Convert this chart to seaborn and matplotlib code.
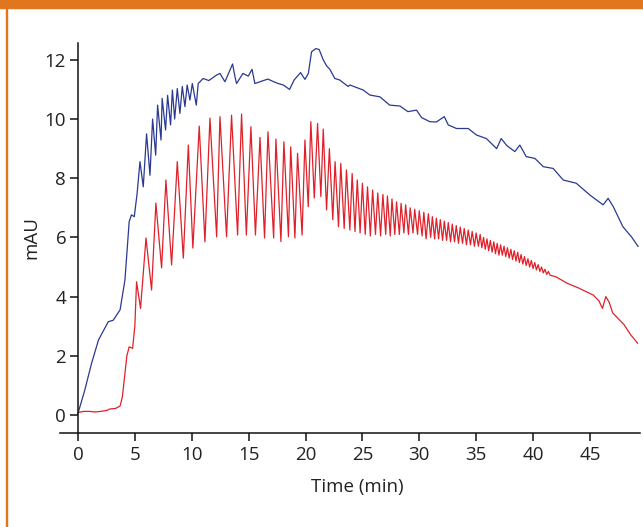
import pandas as pd
import seaborn as sns
import matplotlib.pyplot as plt
from matplotlib.patches import Rectangle

# red trace (pulsed): time (min) and mAU
red_t = [0, 0.5, 1.0, 1.5, 2.0, 2.5, 2.8, 3.3, 3.7, 3.9, 4.1, 4.3, 4.5, 4.8, 5.0,
         5.15, 5.5, 5.98, 6.47, 6.85, 7.35, 7.73, 8.23, 8.73, 9.26, 9.7, 10.1,
         10.66, 11.16, 11.6, 12.19, 12.48, 13.06, 13.5, 14.03, 14.38, 14.8,
         15.2, 15.6, 16.0, 16.4, 16.7, 17.2, 17.4, 17.84, 18.1, 18.5, 18.7,
         19.07, 19.3, 19.7, 19.95, 20.24, 20.47, 20.77, 21.06, 21.35, 21.56,
         21.85, 22.1, 22.4,
         22.6, 22.9, 23.1, 23.4, 23.6, 23.9, 24.1, 24.35, 24.55, 24.8, 25.0,
         25.25, 25.45, 25.7, 25.9, 26.15, 26.35, 26.6, 26.8, 27.05, 27.2,
         27.45, 27.6, 27.85, 28.0, 28.25, 28.4, 28.65, 28.8, 29.05, 29.2,
         29.45, 29.6, 29.85, 30.0, 30.25, 30.4, 30.6, 30.8, 31.0, 31.15,
         31.35, 31.5, 31.7, 31.85, 32.05, 32.2, 32.4, 32.55, 32.75, 32.9,
         33.1, 33.25, 33.45, 33.6, 33.8, 33.95, 34.15, 34.3, 34.5, 34.65,
         34.85, 35.0, 35.2, 35.35, 35.5, 35.65, 35.8, 35.95, 36.1, 36.25,
         36.4, 36.55, 36.7, 36.85, 37.0, 37.15, 37.3, 37.45, 37.6, 37.75,
         37.9, 38.05, 38.2, 38.35, 38.5, 38.65, 38.8, 38.95, 39.1, 39.25,
         39.4, 39.55, 39.7, 39.85, 40.0, 40.15, 40.3, 40.45, 40.6, 40.75,
         40.9, 41.05, 41.2, 41.35, 41.5,
         42.0, 43.0, 44.0, 45.3, 45.8, 46.1, 46.4, 46.7, 47.0, 48.0, 48.6, 49.2]
red_v = [0.08, 0.12, 0.12, 0.1, 0.12, 0.15, 0.2, 0.22, 0.3, 0.6, 1.3, 2.0, 2.3, 2.25, 3.0,
         4.5, 3.6, 5.98, 4.22, 7.16, 4.97, 7.94, 5.07, 8.56, 5.3, 9.12, 5.64,
         9.76, 5.85, 10.03, 6.02, 10.08, 6.02, 10.13, 6.08, 10.17, 6.08,
         9.74, 6.08, 9.38, 5.98, 9.57, 5.98, 9.32, 5.86, 9.23, 6.02, 9.06,
         5.98, 8.84, 6.08, 9.29, 7.04, 9.91, 7.33, 9.85, 7.38, 9.66,
         6.93, 9.0, 6.6,
         8.56, 6.36, 8.5, 6.3, 8.28, 6.25, 8.16, 6.2, 7.94, 6.15, 7.83,
         6.1, 7.71, 6.05, 7.6, 6.1, 7.5, 6.05, 7.45, 6.1, 7.4,
         6.05, 7.3, 6.1, 7.2, 6.1, 7.15, 6.15, 7.1, 6.1, 7.0,
         6.15, 6.95, 6.1, 6.9, 6.05, 6.85, 5.95, 6.8, 6.0, 6.7,
         5.95, 6.65, 5.95, 6.6, 5.9, 6.55, 5.9, 6.5, 5.85, 6.45,
         5.85, 6.4, 5.8, 6.35, 5.8, 6.3, 5.75, 6.25, 5.75, 6.2,
         5.7, 6.15, 5.7, 6.1, 5.65, 6.0, 5.6, 5.95, 5.55, 5.9,
         5.5, 5.85, 5.45, 5.8, 5.4, 5.75, 5.4, 5.7, 5.35, 5.65,
         5.3, 5.6, 5.25, 5.55, 5.2, 5.5, 5.15, 5.42, 5.1, 5.35,
         5.05, 5.28, 5.0, 5.22, 4.95, 5.15, 4.9, 5.08, 4.85, 5.0,
         4.8, 4.92, 4.75, 4.85, 4.72,
         4.67, 4.45, 4.29, 4.05, 3.85, 3.6, 4.0, 3.8, 3.45, 3.05, 2.7, 2.42]

# blue trace
blue_t = [0, 0.6, 1.2, 1.8, 2.66, 3.1, 3.7, 4.13, 4.5, 4.7, 4.95, 5.2, 5.45,
          5.74, 6.03, 6.33, 6.56, 6.83, 7.0, 7.3, 7.4, 7.7, 7.88, 8.14, 8.3,
          8.5, 8.73, 8.96, 9.17, 9.4, 9.6, 9.84, 10.05, 10.4, 10.57, 11.0,
          11.5, 12.2, 12.48, 12.92, 13.59, 13.8, 13.94, 14.5, 14.97, 15.3,
          15.55, 16.3, 16.7, 17.2, 17.6, 18.05, 18.6, 19.0, 19.57, 19.95,
          20.25, 20.53, 20.9, 21.2, 21.56, 21.85, 22.14, 22.58, 23.0, 23.75,
          23.9, 25.07, 25.66, 26.54, 27.4, 28.3, 29.0, 29.76, 30.2, 30.93,
          31.5, 32.2, 32.55, 33.27, 34.3, 35.03, 35.9, 36.8, 37.2, 37.7,
          38.4, 38.84, 39.4, 40.16, 40.9, 41.77, 42.65, 43.8, 45.0, 46.16,
          46.6, 47.05, 47.9, 48.65, 49.24]
blue_v = [0.05, 0.84, 1.75, 2.53, 3.15, 3.2, 3.55, 4.56, 6.53, 6.76, 6.7, 7.49, 8.56,
          7.71, 9.5, 8.1, 10.0, 8.78, 10.47, 9.29, 10.7, 9.63, 10.8, 9.8, 10.98,
          10.0, 11.03, 10.19, 11.1, 10.42, 11.15, 10.64, 11.2, 10.47, 11.2, 11.37,
          11.3, 11.49, 11.54, 11.26, 11.86, 11.43, 11.2, 11.54, 11.45, 11.68,
          11.2, 11.3, 11.35, 11.26, 11.2, 11.15, 11.0, 11.32, 11.57, 11.34,
          11.54, 12.27, 12.38, 12.35, 12.0, 11.8, 11.68, 11.37, 11.32, 11.1,
          11.15, 10.98, 10.81, 10.75, 10.47, 10.44, 10.25, 10.3, 10.05, 9.91,
          9.9, 10.08, 9.8, 9.68, 9.68, 9.46, 9.34, 9.0, 9.34, 9.1,
          8.9, 9.12, 8.73, 8.67, 8.39, 8.33, 7.94, 7.83, 7.43, 7.1,
          7.32, 7.04, 6.36, 6.02, 5.69]

sns.set_style("ticks")
plt.rcParams['font.family'] = ['Open Sans', 'DejaVu Sans']

fig = plt.figure(figsize=(6.43, 5.27), dpi=100)
ax = fig.add_axes([0.0933, 0.1784, 0.902, 0.7406])

blue = pd.DataFrame({'t': blue_t, 'v': blue_v})
red = pd.DataFrame({'t': red_t, 'v': red_v})
sns.lineplot(data=blue, x='t', y='v', ax=ax, color='#2a3990', lw=0.9, sort=False)
sns.lineplot(data=red, x='t', y='v', ax=ax, color='#e0202a', lw=0.9, sort=False)

ax.set_xlim(-1.58, 49.4)
ax.set_ylim(-0.61, 12.58)
ax.set_xticks(range(0, 50, 5))
ax.set_yticks(range(0, 13, 2))
ax.spines['left'].set_position(('data', 0))
ax.spines['top'].set_visible(False)
ax.spines['right'].set_visible(False)
for s in ['left', 'bottom']:
    ax.spines[s].set_linewidth(1.1)
    ax.spines[s].set_color('#111111')
ax.tick_params(direction='out', length=5.5, width=1.1, labelsize=13.5,
               colors='#111111', labelcolor='#222222')
ax.tick_params(axis='x', pad=4)
ax.tick_params(axis='y', pad=3)
ax.set_xlabel('Time (min)', fontsize=13.5, color='#222222')
ax.set_ylabel('mAU', fontsize=13.5, color='#222222')
ax.xaxis.set_label_coords(0.513, -0.115)
ax.yaxis.set_label_coords(-0.034, 0.5)

# orange frame of the page
fig.patches.append(Rectangle((0, 1 - 8 / 527), 1, 8 / 527, transform=fig.transFigure,
                             color='#e0761e', zorder=0))
fig.patches.append(Rectangle((5.5 / 643, 0), 2 / 643, 1, transform=fig.transFigure,
                             color='#e0761e', zorder=0))

fig.savefig('out.png', dpi=100)
